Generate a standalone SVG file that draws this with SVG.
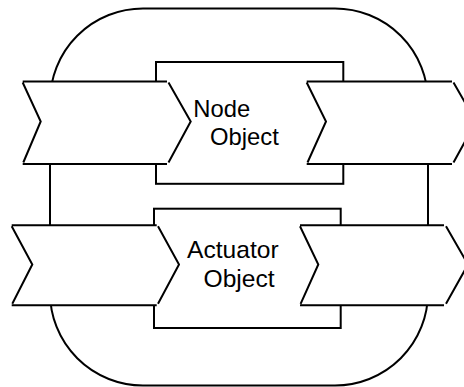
<svg xmlns="http://www.w3.org/2000/svg" width="464" height="387" viewBox="0 0 464 387">
<style>
.ln{fill:none;stroke:#000;stroke-width:2;stroke-linecap:butt;stroke-linejoin:miter}
.bx{fill:#fff;stroke:#000;stroke-width:2}
.fill{fill:#fff;stroke:none}
.t{font-family:"Liberation Sans",Arial,sans-serif;fill:#000}
</style>
<rect width="464" height="387" fill="#fff"/>
<g id="connectors">
<rect id="loop" class="ln" x="50" y="8.5" width="378" height="377" rx="93" ry="93"/>
</g>
<g id="node-object">
<rect class="bx" x="156" y="62" width="187.3" height="121.8"/>
<text class="t" x="193.3" y="117" font-size="23.8">Node</text>
<text class="t" x="210" y="145" font-size="23.8">Object</text>
</g>
<g id="actuator-object">
<rect class="bx" x="154" y="208.7" width="186.7" height="119.3"/>
<text class="t" x="187" y="258.3" font-size="24.6">Actuator</text>
<text class="t" x="203.5" y="286.7" font-size="24.6">Object</text>
</g>
<g id="chevron-top-left">
<polygon class="fill" points="22.7,81.5 167,81.5 190.7,122.8 167,164 22.7,164 40.7,122.8"/>
<path class="ln" d="M22.7,81.5H167M22.7,164H167M22.7,82.5L40.7,121.5L23.3,162.5M168.5,82.5L190.7,121.5L168.5,162.5"/>
</g>
<g id="chevron-top-right">
<polygon class="fill" points="306.7,81.5 452,81.5 476,122.8 452,164 306.7,164 326,122.8"/>
<path class="ln" d="M306.7,81.5H452M306.7,164H452M306.7,82.5L326,121.5L307.5,162.5M453.5,82.5L476,121.5L453.5,162.5"/>
</g>
<g id="chevron-bottom-left">
<polygon class="fill" points="11.7,225.3 156.7,225.3 179,265.3 156.7,305.3 11.7,305.3 32.3,265.3"/>
<path class="ln" d="M11.7,225.3H156.7M11.7,305.3H156.7M11.7,226.3L32.3,264.5L12.3,303.8M158,226.3L179,264.5L158,303.8"/>
</g>
<g id="chevron-bottom-right">
<polygon class="fill" points="300,225.3 444,225.3 468,265.3 444,305.3 300,305.3 318.3,265.3"/>
<path class="ln" d="M300,225.3H444M300,305.3H444M300,226.3L318.3,264.5L300.6,303.8M446,226.3L468,264.5L446,303.8"/>
</g>
</svg>
